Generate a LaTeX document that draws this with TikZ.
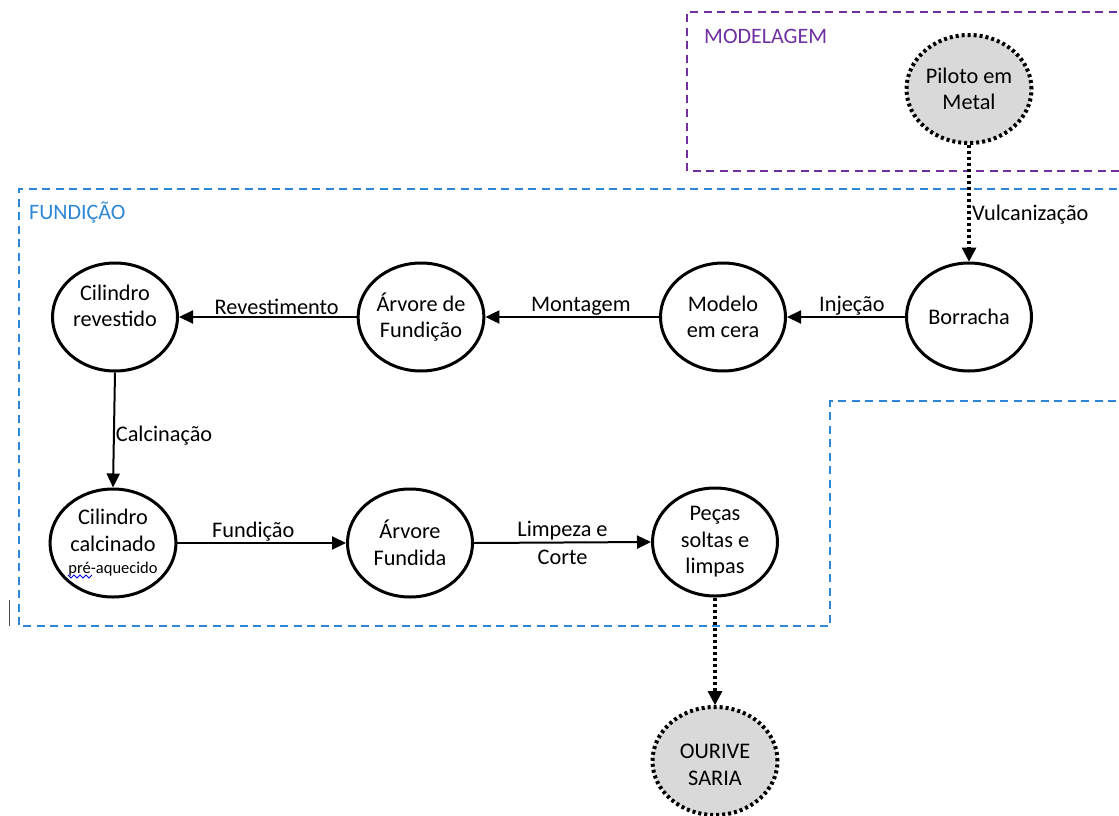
\documentclass[tikz,border=0pt]{standalone}
\usepackage{fontspec}
\setmainfont{Carlito}
\usetikzlibrary{shapes.geometric,arrows.meta}
\definecolor{modpurple}{RGB}{112,48,160}
\definecolor{fundblue}{RGB}{46,134,214}
\definecolor{nodegray}{RGB}{217,217,217}
\tikzset{
  proc/.style={ellipse,draw=black,line width=3pt,minimum width=125pt,minimum height=108pt,inner sep=0pt,align=center,font=\fontsize{22.3}{26.5}\selectfont},
  ext/.style={proc,fill=nodegray,line width=4pt,dash pattern=on 3pt off 3pt},
  flow/.style={line width=2pt,-{Triangle[length=14pt,width=13pt]}},
  dotflow/.style={line width=4pt,dash pattern=on 3pt off 3pt,-{Triangle[length=14pt,width=15pt,line width=0pt]}},
  lbl/.style={font=\fontsize{22.3}{28}\selectfont,inner sep=1pt},
  grp/.style={line width=2.2pt,dash pattern=on 8pt off 5.5pt},
  grplbl/.style={anchor=west,font=\fontsize{22}{24}\selectfont,inner sep=0pt},
  intext/.style={align=center,font=\fontsize{22.3}{26.5}\selectfont,inner sep=0pt},
}
\begin{document}
\begin{tikzpicture}[x=1pt,y=-1pt]
\useasboundingbox (0,0) rectangle (1119,816);
% group boxes
\draw[grp,modpurple] (1130,12) -- (687,12) -- (687,171) -- (1130,171);
\node[grplbl,text=modpurple] (tmod) at (704,36) {MODELAGEM};
\draw[grp,fundblue] (1130,189) -- (19,189) -- (19,626) -- (830,626) -- (830,401) -- (1130,401);
\node[grplbl,text=fundblue] (tfund) at (29,213) {FUNDIÇÃO};
% nodes
\node[ext] (piloto) at (969,89) {Piloto em\\Metal};
\node[proc] (borracha) at (969,317) {Borracha};
\node[proc] (modelo) at (723,317) {Modelo\\em cera};
\node[proc] (arvore) at (421,317) {Árvore de\\Fundição};
\node[proc,label={[intext,yshift=11pt]center:Cilindro\\revestido}] (cilrev) at (115,317) {};
\node[proc] (cilcal) at (113,543) {Cilindro\\calcinado\\[-4pt]{\fontsize{16.5}{18}\selectfont pré-aquecido}};
\node[proc] (fundida) at (410,543) {Árvore\\Fundida};
\node[proc] (pecas) at (715,542) {Peças\\soltas e\\limpas};
\node[ext,label={[intext,yshift=-4pt]center:OURIVE\\SARIA}] (ourives) at (715,761) {};
% connectors
\draw[dotflow] (piloto.south) -- node[lbl,right,pos=0.6] {Vulcanização} (borracha.north);
\draw[flow] (borracha.west) -- node[lbl,above,pos=0.45] {Injeção} (modelo.east);
\draw[flow] (modelo.west) -- node[lbl,above,pos=0.45] {Montagem} (arvore.east);
\draw[flow] (arvore.west) -- node[lbl,above,pos=0.45] {Revestimento} (cilrev.east);
\draw[flow] (cilrev.south) -- node[lbl,right,pos=0.55] {Calcinação} (cilcal.north);
\draw[flow] (cilcal.east) -- node[lbl,above,pos=0.45] {Fundição} (fundida.west);
\draw[flow] (fundida.east) -- node[lbl,align=center] {Limpeza e\\Corte} (pecas.west);
\draw[dotflow] (pecas.south) -- (ourives.north);
% artefacts
\coordinate (c1) at (9,600);
\coordinate (c2) at (9,626);
\draw[line width=1pt,black!70] (c1) -- (c2);
\coordinate (s0) at (68,575);
\draw[blue,line width=1pt] (s0) -- ++(3,3) -- ++(3,-3) -- ++(3,3) -- ++(3,-3) -- ++(3,3) -- ++(3,-3) -- ++(3,3) -- ++(3,-3);
\end{tikzpicture}
\end{document}
